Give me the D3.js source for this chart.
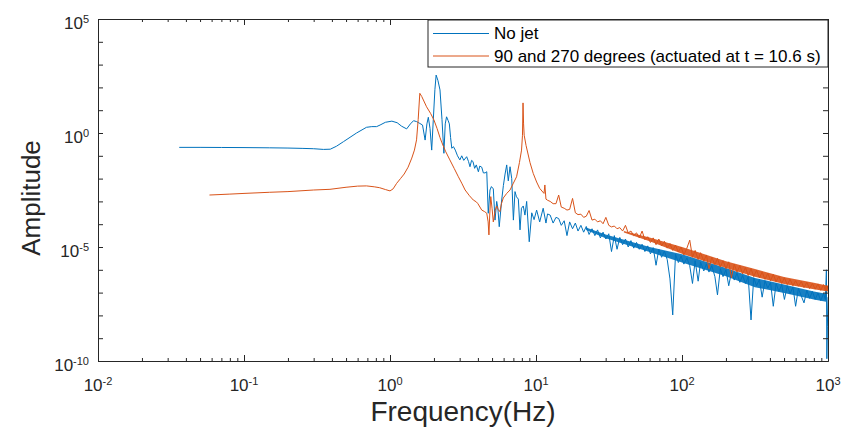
<!DOCTYPE html>
<html>
<head>
<meta charset="utf-8">
<script src="https://cdn.jsdelivr.net/npm/d3@7"></script>
<style>
  body { margin: 0; background: #fff; }
  svg { display: block; font-family: "Liberation Sans", Arial, sans-serif; }
  .axis path, .axis line { stroke: #262626; }
  .line { fill: none; stroke-width: 1; stroke-linejoin: round; }
  .value1 { stroke: #0072BD; }
  .value2 { stroke: #D95319; }
</style>
</head>
<body>
<svg id="wrapper" width="845" height="433"></svg>
<script>
const margin = {top: 19, right: 17, bottom: 72, left: 98};
const W = 845, H = 433;

const labels = ['No jet', '90 and 270 degrees (actuated at t = 10.6 s)'];
const xTickExps = [-2, -1, 0, 1, 2, 3];
const yTickExps = [-10, -5, 0, 5];

// low-frequency part (Hz, log10 amplitude)
const noJetLowFreq = [0.036, 0.05, 0.07, 0.1, 0.15, 0.2, 0.25, 0.3, 0.35, 0.39, 0.43, 0.48, 0.59, 0.69, 0.75, 0.81, 0.855, 0.93,
  1.03, 1.12, 1.2, 1.3, 1.38, 1.45, 1.52, 1.6, 1.67, 1.74, 1.79, 1.83, 1.88, 1.93, 1.98, 2.03, 2.07, 2.13, 2.2, 2.27, 2.34,
  2.39, 2.44, 2.5, 2.55, 2.6, 2.65, 2.72, 2.8, 2.9, 3.01, 3.1, 3.2, 3.35, 3.45, 3.53, 3.62, 3.7, 3.8, 3.9, 4.03, 4.12, 4.25,
  4.36, 4.48, 4.6, 4.71, 4.84, 4.95, 5.1, 5.24, 5.38, 5.48, 5.6, 5.82, 5.98, 6.14, 6.3, 6.46, 6.64, 6.82, 7.0, 7.18, 7.35,
  7.57, 7.77, 7.95, 8.18, 8.4, 8.63, 8.99, 9.35, 9.7, 10.1, 10.6, 11.2, 11.7, 12.0];
const noJetLowAmp = [-0.63, -0.63, -0.635, -0.64, -0.65, -0.66, -0.675, -0.69, -0.72, -0.71, -0.58, -0.38, 0.0, 0.25, 0.28, 0.28, 0.35, 0.47,
  0.52, 0.45, 0.3, 0.18, 0.4, 0.54, 0.5, 0.42, 0.35, -0.31, 0.4, 0.69, 0.2, -0.75, 0.6, 1.9, 2.54, 2.3, 1.89, 0.6, -0.89,
  0.4, 0.71, 0.55, 0.4, -0.2, -0.67, -0.6, -0.75, -1.0, -1.18, -1.0, -1.2, -1.04, -1.25, -1.48, -1.2, -1.25, -1.55, -1.4, -1.7, -1.45, -1.5,
  -1.75, -1.75, -1.7, -3.52, -2.5, -2.35, -2.45, -3.82, -3.0, -3.3, -4.11, -2.94, -2.3, -1.8, -1.4, -2.1, -1.48, -2.0, -3.82, -2.57, -2.8,
  -2.9, -4.25, -3.3, -3.2, -3.6, -3.0, -4.77, -3.5, -3.8, -3.38, -3.9, -3.3, -3.95, -3.55];

const jetLowFreq = [0.058, 0.08, 0.1, 0.15, 0.2, 0.3, 0.388, 0.5, 0.6, 0.69, 0.78, 0.85, 0.93, 1.0, 1.05, 1.11, 1.18, 1.25, 1.33,
  1.41, 1.47, 1.52, 1.56, 1.6, 1.65, 1.78, 1.9, 2.0, 2.1, 2.2, 2.26, 2.4, 2.57, 2.75, 2.94, 3.1, 3.27, 3.5, 3.72, 3.9, 4.0,
  4.25, 4.45, 4.6, 4.7, 4.76, 4.82, 4.9, 5.0, 5.1, 5.25, 5.38, 5.5, 5.66, 5.8, 5.97, 6.3, 6.64, 7.0, 7.36, 7.7, 7.96, 8.08,
  8.15, 8.22, 8.3, 8.55, 9.1, 9.57, 10.1, 10.6, 11.35, 11.5, 11.7, 12.0];
const jetLowAmp = [-2.72, -2.68, -2.65, -2.6, -2.57, -2.5, -2.47, -2.38, -2.33, -2.32, -2.36, -2.4, -2.48, -2.54, -2.45, -2.21, -2.0, -1.8, -1.5,
  -1.1, -0.75, -0.3, 0.6, 1.74, 1.6, 1.15, 0.85, 0.57, 0.2, -0.2, -0.4, -0.8, -1.18, -1.55, -1.92, -2.2, -2.5, -2.75, -2.94, -3.02, -3.1,
  -3.38, -3.45, -3.52, -3.9, -4.47, -3.6, -2.79, -3.3, -3.9, -3.4, -3.2, -3.35, -3.45, -3.1, -2.85, -2.65, -2.5, -2.2, -1.92, -1.3, -0.75, -0.1,
  1.32, 0.4, -0.1, -0.55, -1.3, -1.77, -2.15, -2.43, -2.65, -2.28, -2.9, -2.95];

// noisy high-frequency part (Hz), shared by both series
const bandFreq = [12.5, 13.1, 13.7, 14.3, 14.9, 15.6, 16.3, 17.0, 17.8, 18.6, 19.4, 20.3, 21.2, 22.1, 23.1, 24.2, 25.3, 26.4, 27.6, 28.8,
  30.1, 31.5, 32.9, 34.4, 35.9, 37.5, 39.2, 41.0, 42.8, 44.7, 46.7, 48.8, 51.0, 53.3, 55.7, 58.2, 60.8, 63.5, 66.4, 69.4,
  72.5, 75.8, 79.2, 82.7, 86.4, 90.3, 94.4, 98.6, 103, 108, 113, 118, 123, 129, 134, 141, 147, 153, 160, 168,
  175, 183, 191, 200, 209, 218, 228, 238, 249, 260, 272, 284, 297, 310, 324, 339, 354, 370, 387, 404,
  422, 441, 461, 482, 503, 526, 550, 575, 600, 627, 656, 685, 716, 748, 782, 817, 854, 892, 932, 960];
const noJetBandAmp = [-3.6, -3.95, -3.7, -3.75, -4.05, -3.85, -4.5, -3.9, -4.2, -3.95,
  -4.3, -4.05, -4.35, -4.1, -4.45, -4.2, -4.5, -4.25, -4.6, -4.35,
  -4.65, -4.42, -5.2, -4.5, -5.1, -4.58, -4.9, -4.65, -5.0, -4.72,
  -5.05, -4.8, -5.1, -4.88, -5.2, -4.95, -5.3, -5.03, -5.8, -5.1,
  -5.45, -5.18, -5.55, -6.4, -7.98, -5.32, -5.68, -5.4, -5.75, -5.48,
  -5.82, -6.6, -5.6, -6.5, -5.66, -6.05, -5.74, -6.1, -5.82, -6.3,
  -7.1, -5.95, -6.3, -6.0, -6.7, -6.1, -6.45, -6.15, -6.55, -6.25,
  -6.6, -6.3, -8.2, -6.35, -6.7, -6.42, -7.2, -6.48, -6.8, -6.55,
  -7.6, -6.6, -6.95, -6.65, -7.3, -6.7, -7.05, -6.75, -7.6, -6.82,
  -7.15, -7.45, -6.9, -7.25, -6.95, -7.3, -7.02, -7.35, -7.05, -7.3];
const noJetTailFreq = [975, 982, 990, 1000];
const noJetTailAmp = [-6.0, -9.9, -8.5, -7.2];

const jetBandAmp = [-3.0, -3.1, -3.1, -2.72, -3.25, -3.3, -3.38, -3.35, -2.87, -3.5,
  -3.58, -3.56, -3.7, -3.65, -3.4, -3.82, -3.78, -3.9, -3.85, -3.98,
  -3.7, -4.05, -4.12, -4.08, -4.2, -4.15, -4.3, -4.05, -4.38, -4.3,
  -4.5, -4.38, -4.6, -4.3, -4.68, -4.55, -4.8, -4.6, -4.9, -4.65,
  -4.95, -4.75, -5.05, -4.85, -5.15, -4.92, -5.22, -5.0, -5.35, -5.05,
  -4.7, -5.45, -5.15, -5.55, -5.25, -5.62, -5.35, -5.95, -5.45, -5.78,
  -5.5, -5.88, -5.6, -5.95, -5.65, -6.35, -5.75, -6.1, -5.82, -6.18,
  -5.9, -6.25, -5.95, -6.3, -6.02, -6.35, -6.1, -6.42, -6.15, -6.48,
  -6.2, -6.52, -6.28, -6.6, -6.35, -6.65, -6.42, -6.7, -6.48, -6.72,
  -6.52, -6.78, -6.55, -6.82, -6.6, -6.85, -6.62, -6.9, -6.65, -6.92];
const jetTailFreq = [985, 1000];
const jetTailAmp = [-6.7, -6.85];

// edges of the dense noise ribbon (Hz, log10 amplitude)
const noJetRibbonFreq = [22, 30, 60, 100, 200, 316, 500, 800, 970];
const noJetRibbonHi = [-4.15, -4.45, -5.0, -5.32, -5.92, -6.36, -6.64, -6.95, -7.05];
const noJetRibbonLo = [-4.25, -4.62, -5.22, -5.68, -6.28, -6.76, -7.02, -7.3, -7.4];
const jetRibbonFreq = [40, 60, 100, 200, 316, 500, 800, 1000];
const jetRibbonHi = [-4.3, -4.58, -5.0, -5.62, -5.97, -6.32, -6.57, -6.7];
const jetRibbonLo = [-4.36, -4.75, -5.3, -5.92, -6.3, -6.62, -6.85, -6.95];

function series(freqs, logAmps) {
  return freqs.map((f, i) => ({f: f, a: Math.pow(10, logAmps[i])}));
}
function ribbon(freqs, hi, lo) {
  return freqs.map((f, i) => ({f: f, hi: Math.pow(10, hi[i]), lo: Math.pow(10, lo[i])}));
}
let noJet = series(noJetLowFreq.concat(bandFreq, noJetTailFreq), noJetLowAmp.concat(noJetBandAmp, noJetTailAmp));
let jet = series(jetLowFreq.concat(bandFreq, jetTailFreq), jetLowAmp.concat(jetBandAmp, jetTailAmp));
let noJetRibbon = ribbon(noJetRibbonFreq, noJetRibbonHi, noJetRibbonLo);
let jetRibbon = ribbon(jetRibbonFreq, jetRibbonHi, jetRibbonLo);

let width = W - margin.left - margin.right;
let height = H - margin.top - margin.bottom;

let svg = d3.select('#wrapper');
let g = svg.append('g')
  .attr('transform', 'translate(' + margin.left + ',' + margin.top + ')');

let x = d3.scaleLog().domain([1e-2, 1e3]).range([0, width]);
let y = d3.scaleLog().domain([1e-10, 1e5]).range([height, 0]);

let majorX = xTickExps.map(e => Math.pow(10, e));
let minorX = [];
majorX.slice(0, -1).forEach(d => { for (let k = 2; k <= 9; k++) minorX.push(d * k); });
let majorY = d3.range(yTickExps[0], yTickExps[yTickExps.length - 1] + 1).map(e => Math.pow(10, e));

let plot = g.append('g');
plot.append('clipPath').attr('id', 'clip')
  .append('rect').attr('width', width).attr('height', height + 1).attr('y', -1);

let valueLine = d3.line()
  .x(d => x(d.f))
  .y(d => y(d.a));
let ribbonArea = d3.area()
  .x(d => x(d.f))
  .y0(d => y(d.lo))
  .y1(d => y(d.hi));

plot.append('path').datum(noJetRibbon)
  .attr('fill', '#0072BD')
  .attr('opacity', 0.9)
  .attr('d', ribbonArea);
plot.append('path').datum(noJet)
  .attr('class', 'line value1')
  .attr('clip-path', 'url(#clip)')
  .attr('d', valueLine);
plot.append('path').datum(jetRibbon)
  .attr('fill', '#D95319')
  .attr('opacity', 0.9)
  .attr('d', ribbonArea);
plot.append('path').datum(jet)
  .attr('class', 'line value2')
  .attr('clip-path', 'url(#clip)')
  .attr('d', valueLine);

// box with inward ticks on all four sides
function addAxis(axis, tx, ty) {
  g.append('g').attr('class', 'axis')
    .attr('transform', 'translate(' + tx + ',' + ty + ')')
    .call(axis)
    .call(s => s.selectAll('text').remove());
}
addAxis(d3.axisBottom(x).tickValues(majorX).tickSizeInner(-6).tickSizeOuter(0), 0, height);
addAxis(d3.axisBottom(x).tickValues(minorX).tickSizeInner(-3).tickSizeOuter(0), 0, height);
addAxis(d3.axisTop(x).tickValues(majorX).tickSizeInner(-6).tickSizeOuter(0), 0, 0);
addAxis(d3.axisTop(x).tickValues(minorX).tickSizeInner(-3).tickSizeOuter(0), 0, 0);
addAxis(d3.axisLeft(y).tickValues(majorY).tickSizeInner(-5).tickSizeOuter(0), 0, 0);
addAxis(d3.axisRight(y).tickValues(majorY).tickSizeInner(-5).tickSizeOuter(0), width, 0);

// tick labels as 10 with superscript exponent
function powLabel(sel, e) {
  sel.append('tspan').text('10');
  sel.append('tspan').attr('dy', '-0.55em').style('font-size', '11px').text(e);
}
xTickExps.forEach(e => {
  g.append('text')
    .attr('x', x(Math.pow(10, e)))
    .attr('y', height + 30)
    .attr('text-anchor', 'middle')
    .attr('fill', '#262626')
    .style('font-size', '17px')
    .call(powLabel, e);
});
yTickExps.forEach(e => {
  g.append('text')
    .attr('x', -9)
    .attr('y', y(Math.pow(10, e)) + 10)
    .attr('text-anchor', 'end')
    .attr('fill', '#262626')
    .style('font-size', '17px')
    .call(powLabel, e);
});

// axis titles
g.append('text')
  .attr('x', width / 2)
  .attr('y', height + 60)
  .attr('text-anchor', 'middle')
  .attr('fill', '#262626')
  .style('font-size', '28px')
  .text('Frequency(Hz)');
g.append('text')
  .attr('transform', 'rotate(-90)')
  .attr('x', -height / 2 - 8)
  .attr('y', -58)
  .attr('text-anchor', 'middle')
  .attr('fill', '#262626')
  .style('font-size', '26px')
  .text('Amplitude');

// legend
let legend = g.append('g')
  .attr('class', 'legend')
  .attr('transform', 'translate(' + (width - 400) + ',1)')
  .style('font-size', '17px');
legend.append('rect')
  .attr('width', 400)
  .attr('height', 47)
  .style('fill', 'white')
  .style('stroke', '#262626');
[0, 1].forEach(i => {
  legend.append('line')
    .attr('class', 'value' + (i + 1))
    .attr('x1', 5).attr('x2', 61)
    .attr('y1', 13.5 + i * 22.5).attr('y2', 13.5 + i * 22.5);
  legend.append('text')
    .attr('x', 66)
    .attr('y', 13.5 + i * 22.5)
    .attr('dy', '0.35em')
    .attr('fill', '#000')
    .text(labels[i]);
});
</script>
</body>
</html>
